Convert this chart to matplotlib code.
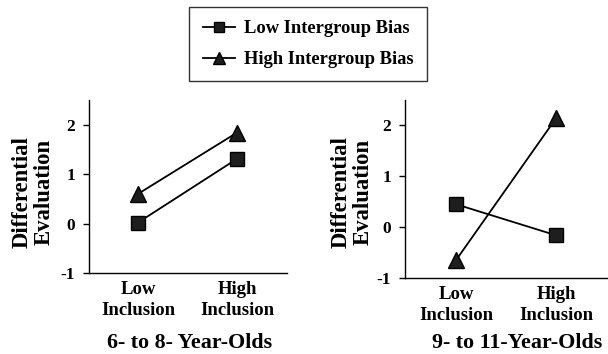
import matplotlib
matplotlib.use("Agg")
import matplotlib.pyplot as plt
from matplotlib.lines import Line2D

plt.rcParams['font.family'] = ['Liberation Serif', 'DejaVu Serif']
plt.rcParams['font.weight'] = 'bold'

categories = ["Low\nInclusion", "High\nInclusion"]
yticks = [-1, 0, 1, 2]
ytick_labels = ["-1", "0", "1", "2"]
series_names = ["Low Intergroup Bias", "High Intergroup Bias"]
panel_titles = ["6- to 8- Year-Olds", "9- to 11-Year-Olds"]
ylabel = "Differential\nEvaluation"

young_low_bias = [0.02, 1.31]
young_high_bias = [0.60, 1.84]
old_low_bias = [0.45, -0.16]
old_high_bias = [-0.65, 2.14]

W, H = 608, 354
fig = plt.figure(figsize=(W / 100, H / 100), dpi=100)

def px_axes(x0, x1, ytop, ybot):
    return fig.add_axes([x0 / W, 1 - ybot / H, (x1 - x0) / W, (ybot - ytop) / H])

ax1 = px_axes(89, 287, 100, 273)
ax2 = px_axes(405, 608, 100, 278)

# (axes, series1, series2, xlim, title center px, ylabel center px)
panels = [
    (ax1, young_low_bias, young_high_bias, (-0.495, 1.505), (190, 343), (33, 192)),
    (ax2, old_low_bias, old_high_bias, (-0.51, 1.52), (517, 343), (352, 192)),
]

xs = list(range(len(categories)))
for i, (ax, lowb, highb, xl, tpos, lpos) in enumerate(panels):
    ax.plot(xs, lowb, color='black', lw=1.3, marker='s', ms=10.5,
            markerfacecolor='#1e1e1e', markeredgecolor='black', clip_on=False)
    ax.plot(xs, highb, color='black', lw=1.3, marker='^', ms=11,
            markerfacecolor='#1e1e1e', markeredgecolor='black', clip_on=False)
    ax.set_xlim(*xl)
    ax.set_ylim(-1, 2.5)
    ax.set_yticks(yticks)
    ax.set_yticklabels(ytick_labels, fontsize=12.5, fontweight='bold')
    ax.set_xticks(xs)
    ax.set_xticklabels(categories, fontsize=13.5, fontweight='bold', linespacing=1.25)
    ax.tick_params(axis='x', length=0, pad=6)
    ax.tick_params(axis='y', direction='out', length=4, width=1, pad=6)
    for s in ['top', 'right']:
        ax.spines[s].set_visible(False)
    for s in ['left', 'bottom']:
        ax.spines[s].set_linewidth(1.0)
    fig.text(lpos[0] / W, 1 - lpos[1] / H, ylabel, rotation=90, ha='center',
             va='center', fontsize=16.4, fontweight='bold', linespacing=1.1,
             multialignment='center')
    fig.text(tpos[0] / W, 1 - tpos[1] / H, panel_titles[i], ha='center',
             va='center', fontsize=15.8, fontweight='bold')

handles = [
    Line2D([], [], color='black', lw=1.3, marker='s', ms=7,
           markerfacecolor='#1e1e1e', markeredgecolor='black'),
    Line2D([], [], color='black', lw=1.3, marker='^', ms=8,
           markerfacecolor='#1e1e1e', markeredgecolor='black'),
]
leg = fig.legend(handles, series_names, loc='upper center',
                 bbox_to_anchor=(308 / W, 1 - 7 / H), borderaxespad=0,
                 frameon=True, fancybox=False, edgecolor='black',
                 handlelength=1.77, labelspacing=0.75, borderpad=0.72,
                 handletextpad=0.44, prop={'weight': 'bold', 'size': 13.3})
leg.get_frame().set_linewidth(1.0)

fig.savefig("out.png", dpi=100)
